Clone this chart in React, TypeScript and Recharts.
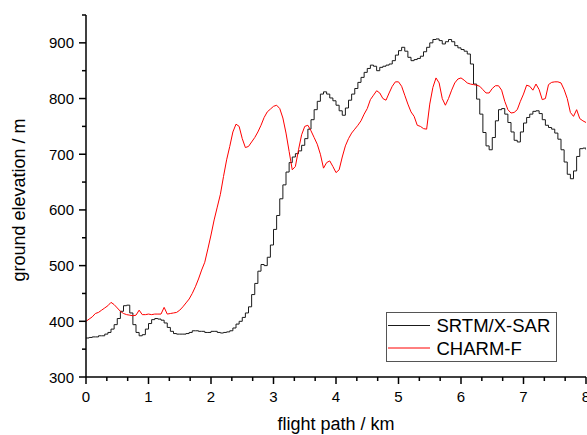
import { LineChart, Line, XAxis, YAxis, Legend } from "recharts";

// flight path sampled every 0.05 km, 0 .. 8 km
const stepKm = 0.05;

// SRTM/X-SAR ground elevation (m)
const srtm = [
  370, 371, 372, 372, 374, 374, 377, 380, 386, 394, 405, 418, 428, 429, 415, 394, 380, 374, 376, 386,
  396, 403, 405, 404, 402, 397, 389, 382, 378, 377, 377, 377, 378, 380, 383, 383, 382, 382, 380, 380,
  382, 382, 380, 379, 380, 381, 383, 388, 395, 400, 407, 415, 426, 448, 468, 490, 502, 500, 515, 537,
  565, 590, 620, 645, 668, 685, 695, 701, 706, 716, 728, 745, 762, 780, 795, 808, 812, 808, 801, 796,
  788, 778, 770, 783, 797, 808, 818, 829, 838, 847, 854, 860, 858, 850, 856, 858, 860, 862, 868, 878,
  886, 892, 885, 874, 868, 870, 872, 876, 884, 892, 900, 906, 907, 904, 898, 902, 906, 902, 895, 891,
  888, 885, 880, 862, 826, 799, 772, 739, 715, 708, 730, 760, 780, 782, 772, 757, 740, 725, 722, 740,
  756, 766, 772, 777, 778, 773, 762, 752, 748, 745, 738, 727, 708, 686, 664, 656, 670, 696, 710, 711,
  708,
];

// CHARM-F ground elevation (m)
const charm = [
  400, 404, 408, 414, 416, 420, 424, 428, 434, 430, 424, 418, 414, 412, 411, 410, 411, 420, 412, 412,
  413, 412, 413, 413, 413, 425, 413, 414, 415, 416, 420, 426, 433, 440, 450, 462, 476, 492, 506, 530,
  555, 582, 605, 628, 660, 690, 714, 740, 754, 750, 728, 712, 714, 722, 730, 740, 752, 766, 776, 781,
  786, 788, 782, 765, 738, 705, 672, 678, 708, 735, 750, 752, 742, 730, 718, 700, 675, 685, 688, 678,
  667, 672, 695, 715, 728, 738, 745, 752, 760, 772, 782, 798, 806, 814, 810, 800, 797, 810, 822, 830,
  830, 822, 806, 790, 776, 768, 752, 750, 746, 745, 790, 820, 837, 828, 800, 788, 800, 815, 828, 835,
  837, 833, 828, 826, 825, 824, 822, 816, 810, 810, 818, 823, 823, 815, 795, 780, 774, 775, 780, 795,
  808, 824, 822, 815, 826, 816, 798, 800, 825, 829, 830, 830, 828, 816, 800, 775, 768, 780, 764, 760,
  757,
];

const xMajor = [0, 1, 2, 3, 4, 5, 6, 7, 8];
const yMajor = [300, 400, 500, 600, 700, 800, 900];

const seriesNames = ["SRTM/X-SAR", "CHARM-F"];
const seriesColors = ["#1a1a1a", "#ff0000"];

const data = srtm.map((v, i) => ({
  km: Math.round(i * stepKm * 100) / 100,
  srtm: v,
  charm: charm[i],
}));

// two minor ticks between the km ticks, one between the 100 m ticks
const xTicks = xMajor.flatMap((v) => (v < 8 ? [v, v + 1 / 3, v + 2 / 3] : [v]));
const yTicks = yMajor.flatMap((v) => [v, v + 50]);

const FONT = "'Liberation Sans', Arial, sans-serif";
const isMajor = (v: number) => Math.abs(v - Math.round(v)) < 1e-6;
const isMajorY = (v: number) => v % 100 === 0;

const BottomTick = ({ x, y, payload }: any) => {
  const major = isMajor(payload.value);
  return (
    <g>
      <line x1={x} x2={x} y1={y} y2={y + (major ? 7 : 4)} stroke="#000" strokeWidth={1.5} />
      {major && (
        <text x={x} y={y + 25} textAnchor="middle" fontSize={15} fontFamily={FONT} fill="#000">
          {Math.round(payload.value)}
        </text>
      )}
    </g>
  );
};

const TopTick = ({ x, y, payload }: any) => (
  <line x1={x} x2={x} y1={y} y2={y + (isMajor(payload.value) ? 7 : 4)} stroke="#000" strokeWidth={1.5} />
);

const LeftTick = ({ x, y, payload }: any) => {
  const major = isMajorY(payload.value);
  return (
    <g>
      <line x1={x - (major ? 7 : 4)} x2={x} y1={y} y2={y} stroke="#000" strokeWidth={1.5} />
      {major && (
        <text x={x - 12} y={y + 5.5} textAnchor="end" fontSize={15} fontFamily={FONT} fill="#000">
          {payload.value}
        </text>
      )}
    </g>
  );
};

const RightTick = ({ x, y, payload }: any) => (
  <line x1={x - (isMajorY(payload.value) ? 7 : 4)} x2={x} y1={y} y2={y} stroke="#000" strokeWidth={1.5} />
);

const xTitle = (props: any) => {
  const vb = props.viewBox || { x: 86, y: 377, width: 500, height: 58 };
  return (
    <text x={vb.x + vb.width / 2} y={vb.y + 53} textAnchor="middle" fontSize={18} fontFamily={FONT} fill="#000">
      flight path / km
    </text>
  );
};

const yTitle = (props: any) => {
  const vb = props.viewBox || { x: 0, y: 15, width: 86, height: 362 };
  const cx = vb.x + 25;
  const cy = vb.y + vb.height / 2 + 4;
  return (
    <text x={cx} y={cy} transform={`rotate(-90 ${cx} ${cy})`} textAnchor="middle" fontSize={18} fontFamily={FONT} fill="#000">
      ground elevation / m
    </text>
  );
};

const LegendBox = () => (
  <div style={{ width: 171, height: 50, border: "1px solid #555", boxSizing: "border-box", background: "#fff" }}>
    <svg width={169} height={48} style={{ display: "block" }}>
      {seriesNames.map((name, i) => (
        <g key={name}>
          <line x1={1} x2={43} y1={12.5 + i * 22.5} y2={12.5 + i * 22.5} stroke={seriesColors[i]} strokeWidth={1} />
          <text x={49.5} y={19 + i * 22.7} fontSize={18.5} fontFamily={FONT} fill="#000">
            {name}
          </text>
        </g>
      ))}
    </svg>
  </div>
);

export default function App() {
  return (
    <div style={{ position: "fixed", left: 0, top: 0, width: 587, height: 435, overflow: "hidden", background: "#fff" }}>
      <LineChart width={620} height={435} data={data} margin={{ top: 15, right: 34, bottom: 0, left: 0 }}>
        <XAxis
          dataKey="km"
          type="number"
          domain={[0, 8]}
          ticks={xTicks}
          interval={0}
          height={58}
          tickSize={0}
          tickMargin={0}
          tickLine={false}
          tick={<BottomTick />}
          axisLine={{ stroke: "#000", strokeWidth: 1.5 }}
          label={xTitle}
          allowDataOverflow
        />
        <XAxis
          xAxisId="top"
          dataKey="km"
          type="number"
          orientation="top"
          domain={[0, 8]}
          ticks={xTicks}
          interval={0}
          height={0}
          tickSize={0}
          tickMargin={0}
          tickLine={false}
          tick={<TopTick />}
          axisLine={{ stroke: "#000", strokeWidth: 1.5 }}
          allowDataOverflow
        />
        <YAxis
          type="number"
          domain={[300, 950]}
          ticks={yTicks}
          interval={0}
          width={86}
          tickSize={0}
          tickMargin={0}
          tickLine={false}
          tick={<LeftTick />}
          axisLine={{ stroke: "#000", strokeWidth: 1.5 }}
          label={yTitle}
          allowDataOverflow
        />
        <YAxis
          yAxisId="right"
          type="number"
          orientation="right"
          domain={[300, 950]}
          ticks={yTicks}
          interval={0}
          width={0}
          tickSize={0}
          tickMargin={0}
          tickLine={false}
          tick={<RightTick />}
          axisLine={{ stroke: "#000", strokeWidth: 1.5 }}
          allowDataOverflow
        />
        <Legend
          layout="horizontal"
          verticalAlign="middle"
          align="center"
          content={<LegendBox />}
          wrapperStyle={{ left: 386, top: 312, width: 171, height: 50 }}
        />
        <Line
          type="stepAfter"
          dataKey="srtm"
          name={seriesNames[0]}
          stroke={seriesColors[0]}
          strokeWidth={1}
          dot={false}
          isAnimationActive={false}
        />
        <Line
          type="linear"
          dataKey="charm"
          name={seriesNames[1]}
          stroke={seriesColors[1]}
          strokeWidth={1}
          dot={false}
          isAnimationActive={false}
        />
      </LineChart>
    </div>
  );
}
